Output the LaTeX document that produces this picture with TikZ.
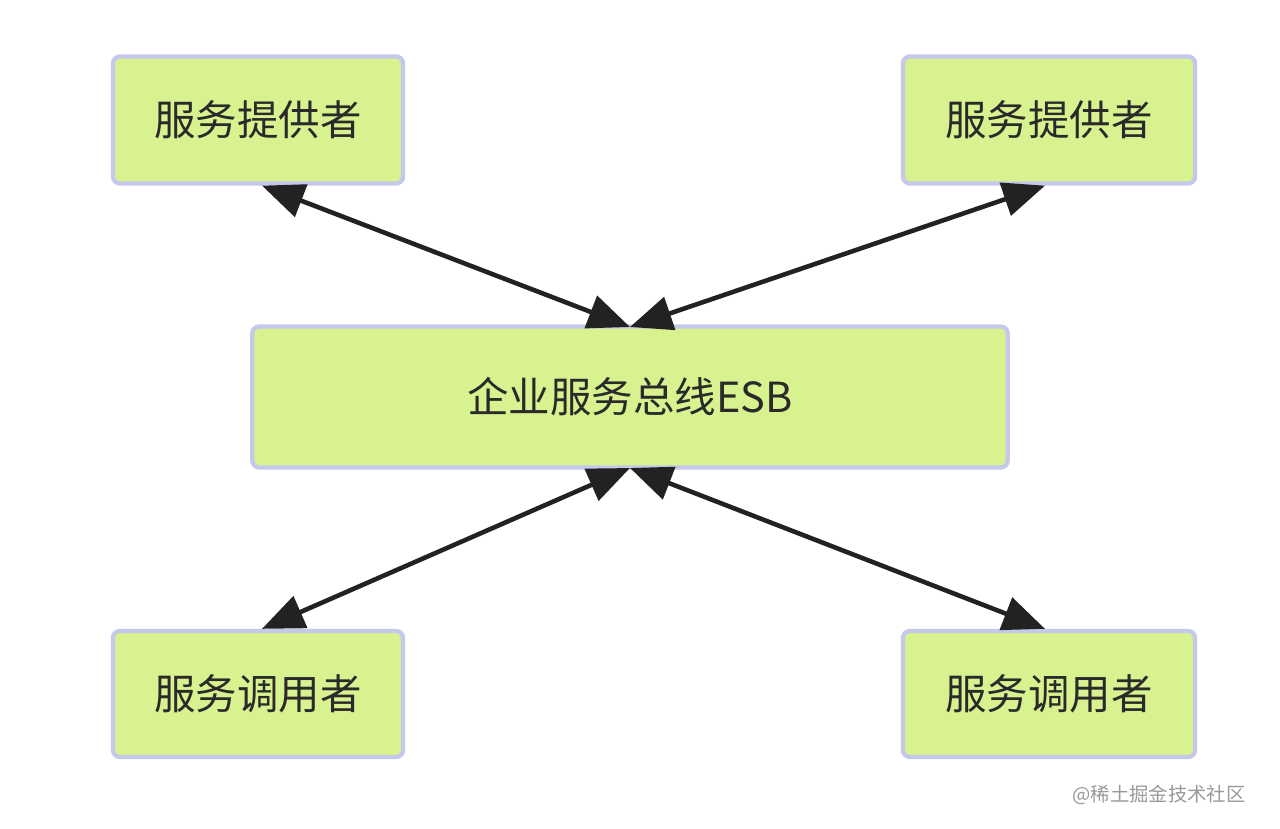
\documentclass[tikz,border=0pt]{standalone}
\usepackage{fontspec}
\setmainfont{Noto Sans CJK SC}
\usetikzlibrary{arrows.meta}
\definecolor{boxfill}{HTML}{D8F28F}
\definecolor{boxline}{HTML}{C4C8EA}
\definecolor{arr}{HTML}{222222}
\definecolor{txt}{HTML}{2A2A2A}
\begin{document}
\begin{tikzpicture}[x=0.01cm,y=-0.01cm,
  box/.style={draw=boxline,line width=1.2pt,fill=boxfill,rounded corners=2pt,inner sep=0pt,text=txt,font=\fontsize{11.8}{13}\selectfont},
  link/.style={draw=arr,line width=1.3pt,{Triangle[length=0.42cm,width=0.34cm]}-{Triangle[length=0.42cm,width=0.34cm]}}]
\useasboundingbox[fill=white] (0,0) rectangle (1280,828);
\node[box,minimum width=2.9cm,minimum height=1.27cm] (tl) at (258,120) {服务提供者};
\node[box,minimum width=2.92cm,minimum height=1.27cm] (tr) at (1049,120) {服务提供者};
\node[box,minimum width=7.55cm,minimum height=1.41cm] (c) at (630,397) {企业服务总线ESB};
\node[box,minimum width=2.9cm,minimum height=1.26cm] (bl) at (258,694) {服务调用者};
\node[box,minimum width=2.92cm,minimum height=1.26cm] (br) at (1049,694) {服务调用者};
\coordinate (ct) at (630,327);
\coordinate (cb) at (630,468);
\draw[link] ([xshift=0.04cm]tl.south) -- (ct);
\draw[link] ([xshift=-0.04cm]tr.south) -- (ct);
\draw[link] ([xshift=0.04cm]bl.north) -- (cb);
\draw[link] ([xshift=-0.04cm]br.north) -- (cb);
\node[text=gray!80,font=\fontsize{5.5}{6}\selectfont,anchor=east] (wm) at (1258,795) {@稀土掘金技术社区};
\end{tikzpicture}
\end{document}
